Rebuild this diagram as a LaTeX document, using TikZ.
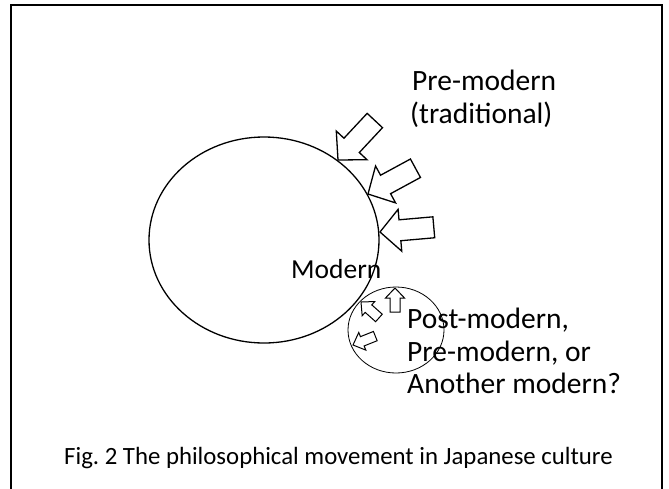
\documentclass[tikz,border=0pt]{standalone}
\usepackage{fontspec}
\setmainfont{Carlito}
\usetikzlibrary{shapes.geometric}
\frenchspacing
\newcommand\bigarr[2]{%
  \draw[bigarrow, shift={#1}, rotate=#2] (0,0) -- (20,21) -- (20,10.5) -- (54,10.5) -- (54,-10.5) -- (20,-10.5) -- (20,-21) -- cycle;}
\newcommand\smallarr[2]{%
  \draw[smallarrow, shift={#1}, rotate=#2] (0,0) -- (10,9.5) -- (10,5) -- (24,5) -- (24,-5) -- (10,-5) -- (10,-9.5) -- cycle;}
\begin{document}
\begin{tikzpicture}[x=1pt,y=-1pt,
  lbl/.style={anchor=base west, inner sep=0, font=\fontsize{29.5}{33}\selectfont},
  caption/.style={anchor=base west, inner sep=0, font=\fontsize{24.8}{30}\selectfont},
  bigarrow/.style={draw=black, fill=white, line width=1.3pt, line join=miter},
  smallarrow/.style={draw=black, fill=white, line width=1pt, line join=miter},
  ring/.style={draw=black, ellipse, inner sep=0}]
\useasboundingbox (0,0) rectangle (669,488);
\draw[line width=2pt] (11,500) -- (11,4.5) -- (661.5,4.5) -- (661.5,500);

\node[ring, line width=1.3pt, minimum width=230pt, minimum height=206pt] (modern) at (264,240) {};
\node[ring, line width=0.8pt, minimum width=96pt, minimum height=86pt] (post) at (396,330) {};

\bigarr{(338,160)}{47}
\bigarr{(368,194)}{28.5}
\bigarr{(380,232)}{5}

\smallarr{(395,288)}{-90}
\smallarr{(361,302)}{-41.6}
\smallarr{(353,345)}{21.8}

\node[lbl] (pre1) at (412,90) {Pre-modern};
\node[lbl] (pre2) at (410,123) {(traditional)};
\node[lbl, font=\fontsize{27.5}{32}\selectfont] (mod) at (291,278) {Modern};
\node[lbl] (q1) at (407,328) {Post-modern,};
\node[lbl] (q2) at (407,361) {Pre-modern, or};
\node[lbl] (q3) at (407,393) {Another modern?};
\node[caption] (cap) at (64,464) {Fig. 2 The philosophical movement in Japanese culture};
\end{tikzpicture}
\end{document}
